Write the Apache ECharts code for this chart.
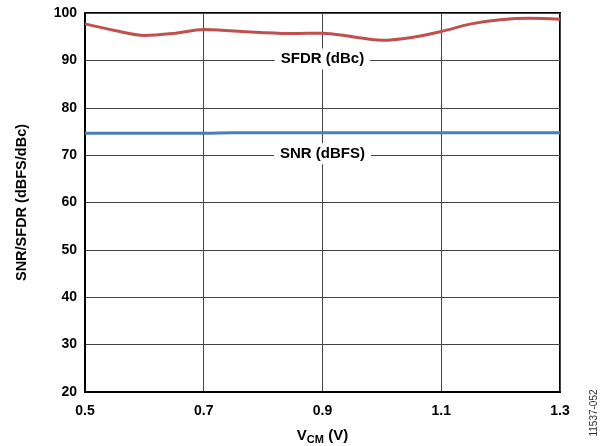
<!DOCTYPE html>
<html>
<head>
<meta charset="utf-8">
<script src="https://cdn.jsdelivr.net/npm/echarts@6/dist/echarts.min.js"></script>
<style>html,body{margin:0;padding:0;background:#fff}#c{width:600px;height:446px}</style>
</head>
<body>
<div id="c"></div>
<script>
var vcm = [0.5, 0.55, 0.6, 0.65, 0.7, 0.75, 0.8, 0.85, 0.9, 0.95, 1.0, 1.05, 1.1, 1.15, 1.2, 1.25, 1.3];
var sfdr = [97.7, 96.3, 95.25, 95.7, 96.5, 96.2, 95.85, 95.65, 95.75, 95.0, 94.25, 94.85, 96.1, 97.7, 98.6, 98.9, 98.7];
var snr = [74.6, 74.6, 74.6, 74.6, 74.6, 74.7, 74.7, 74.7, 74.7, 74.7, 74.7, 74.7, 74.7, 74.7, 74.7, 74.7, 74.7];
var xTicks = [0.5, 0.7, 0.9, 1.1, 1.3];
var yTicks = [20, 30, 40, 50, 60, 70, 80, 90, 100];
var sfdrLabel = 'SFDR (dBc)';
var snrLabel = 'SNR (dBFS)';

var font = '"Liberation Sans", Arial, sans-serif';
var chart = echarts.init(document.getElementById('c'));
function pairs(xs, ys) { return xs.map(function (x, i) { return [x, ys[i]]; }); }
function tag(text, x, y) {
  return {
    symbol: 'rect', symbolSize: 1, silent: true,
    itemStyle: { color: 'rgba(0,0,0,0)' },
    data: [{ coord: [x, y] }],
    label: {
      show: true, position: 'inside', formatter: text,
      color: '#000', fontFamily: font, fontWeight: 'bold', fontSize: 15,
      backgroundColor: '#fff', padding: [3, 6, 3, 6]
    }
  };
}
chart.setOption({
  animation: false,
  grid: { left: 85, right: 40, top: 13, bottom: 54, show: true, borderColor: '#000', borderWidth: 2, outerBoundsMode: 'none', containLabel: false },
  xAxis: {
    type: 'value', min: xTicks[0], max: xTicks[xTicks.length - 1], interval: 0.2,
    axisLine: { lineStyle: { color: '#000', width: 2 } },
    axisTick: { show: false },
    splitLine: { show: true, lineStyle: { color: '#444', width: 1 } },
    axisLabel: {
      color: '#000', fontFamily: font, fontWeight: 'bold', fontSize: 14, margin: 12,
      formatter: function (v) { return v.toFixed(1); }
    },
    name: '{a|V}{b|CM}{a| (V)}', nameLocation: 'middle', nameGap: 35,
    nameTextStyle: {
      rich: {
        a: { fontFamily: font, fontWeight: 'bold', fontSize: 15, color: '#000' },
        b: { fontFamily: font, fontWeight: 'bold', fontSize: 11, color: '#000', padding: [7, 0, 0, 0] }
      }
    }
  },
  yAxis: {
    type: 'value', min: yTicks[0], max: yTicks[yTicks.length - 1], interval: 10,
    axisLine: { show: true, lineStyle: { color: '#000', width: 2 } },
    axisTick: { show: false },
    splitLine: { show: true, lineStyle: { color: '#444', width: 1 } },
    axisLabel: { color: '#000', fontFamily: font, fontWeight: 'bold', fontSize: 14, margin: 8 },
    name: 'SNR/SFDR (dBFS/dBc)', nameLocation: 'middle', nameGap: 56, nameRotate: 90,
    nameTextStyle: { color: '#000', fontFamily: font, fontWeight: 'bold', fontSize: 14.5 }
  },
  series: [
    {
      type: 'line', data: pairs(vcm, sfdr), smooth: 0.3, symbol: 'none',
      lineStyle: { color: '#c0504d', width: 3 }, z: 3,
      markPoint: tag(sfdrLabel, 0.9, 90.3)
    },
    {
      type: 'line', data: pairs(vcm, snr), smooth: true, symbol: 'none',
      lineStyle: { color: '#4a7ebb', width: 3 }, z: 3,
      markPoint: tag(snrLabel, 0.9, 70.3)
    }
  ],
  graphic: [{
    type: 'text', x: 594, y: 413, rotation: Math.PI / 2,
    style: { text: '11537-052', font: '10px ' + font, fill: '#333', textAlign: 'center', textVerticalAlign: 'middle' }
  }]
});
</script>
</body>
</html>
